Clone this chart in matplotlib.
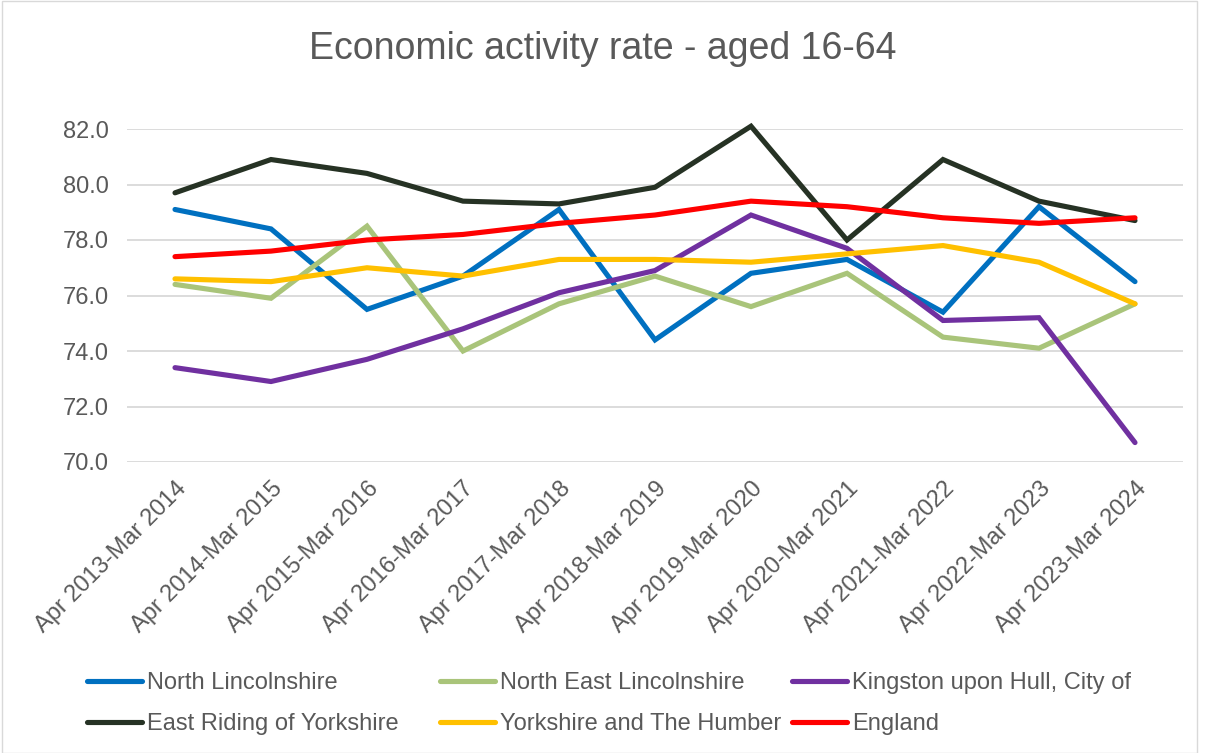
import numpy as np
import matplotlib.pyplot as plt
from matplotlib.patches import Rectangle

plt.rcParams['font.family'] = ['Liberation Sans', 'DejaVu Sans']

# Data
periods = ["Apr 2013-Mar 2014", "Apr 2014-Mar 2015", "Apr 2015-Mar 2016",
           "Apr 2016-Mar 2017", "Apr 2017-Mar 2018", "Apr 2018-Mar 2019",
           "Apr 2019-Mar 2020", "Apr 2020-Mar 2021", "Apr 2021-Mar 2022",
           "Apr 2022-Mar 2023", "Apr 2023-Mar 2024"]

north_lincs = [79.1, 78.4, 75.5, 76.7, 79.1, 74.4, 76.8, 77.3, 75.4, 79.2, 76.5]
ne_lincs = [76.4, 75.9, 78.5, 74.0, 75.7, 76.7, 75.6, 76.8, 74.5, 74.1, 75.7]
hull = [73.4, 72.9, 73.7, 74.8, 76.1, 76.9, 78.9, 77.7, 75.1, 75.2, 70.7]
east_riding = [79.7, 80.9, 80.4, 79.4, 79.3, 79.9, 82.1, 78.0, 80.9, 79.4, 78.7]
yorks_humber = [76.6, 76.5, 77.0, 76.7, 77.3, 77.3, 77.2, 77.5, 77.8, 77.2, 75.7]
england = [77.4, 77.6, 78.0, 78.2, 78.6, 78.9, 79.4, 79.2, 78.8, 78.6, 78.8]

series = [
    ("North Lincolnshire", north_lincs, "#0070C0"),
    ("North East Lincolnshire", ne_lincs, "#A9C47A"),
    ("Kingston upon Hull, City of", hull, "#7030A0"),
    ("East Riding of Yorkshire", east_riding, "#263224"),
    ("Yorkshire and The Humber", yorks_humber, "#FFC000"),
    ("England", england, "#FF0000"),
]

W, H = 1206, 753
fig = plt.figure(figsize=(W / 100, H / 100), dpi=100)
ax = fig.add_axes([127 / W, 1 - 462 / H, (1183 - 127) / W, (462 - 129) / H])

x = np.arange(len(periods))
lines = {}
for name, vals, col in series:
    lines[name], = ax.plot(x, vals, color=col, lw=3.7, label=name, clip_on=False,
                           solid_capstyle="round", solid_joinstyle="miter")

ax.set_xlim(-0.5, len(periods) - 0.5)
ax.set_ylim(70, 82)
ax.set_yticks(np.arange(70, 82.1, 2))
ax.set_yticklabels([f"{v:.1f}" for v in np.arange(70, 82.1, 2)])
ax.set_xticks(x)
ax.set_xticklabels(periods, rotation=45, ha="right", rotation_mode="anchor")
ax.tick_params(length=0, labelsize=17, colors="#595959")
ax.tick_params(axis="y", pad=13)
ax.tick_params(axis="x", pad=11)
ax.grid(axis="y", color="#D9D9D9", lw=1.3)
ax.set_axisbelow(True)
for s in ax.spines.values():
    s.set_visible(False)

fig.text(0.5, 1 - 49 / H, "Economic activity rate - aged 16-64", ha="center",
         va="center", fontsize=27, color="#595959")

# legend: three fixed columns, two rows
columns = [("North Lincolnshire", "East Riding of Yorkshire"),
           ("North East Lincolnshire", "Yorkshire and The Humber"),
           ("Kingston upon Hull, City of", "England")]
col_x = [87, 440, 792]
for cx, names in zip(col_x, columns):
    leg = fig.legend([lines[n] for n in names], names, ncol=1, frameon=False,
                     loc="upper left", bbox_to_anchor=(cx / W, 1 - 672 / H),
                     borderaxespad=0, borderpad=0,
                     fontsize=17, handlelength=2.35, handletextpad=0.2,
                     labelspacing=0.8)
    for t in leg.get_texts():
        t.set_color("#595959")

fig.patches.append(Rectangle((2 / W, 0), 1195 / W, 0.999, transform=fig.transFigure,
                             fill=False, edgecolor="#D9D9D9", lw=1))

fig.savefig("out.png", dpi=100)
